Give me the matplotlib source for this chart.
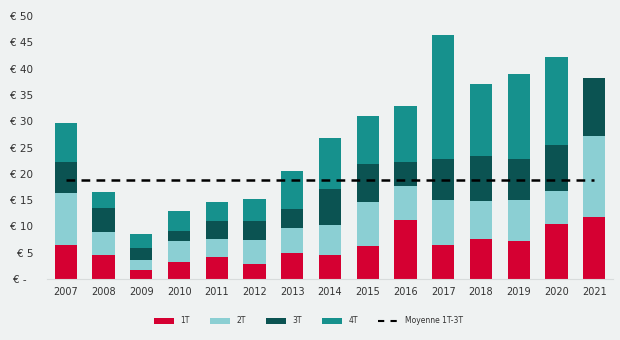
import numpy as np
import matplotlib.pyplot as plt
from matplotlib.patches import Patch
from matplotlib.lines import Line2D

years = [str(y) for y in range(2007, 2022)]
q1 = [6.5, 4.5, 1.8, 3.2, 4.2, 2.8, 4.9, 4.6, 6.3, 11.3, 6.4, 7.7, 7.2, 10.5, 11.8]
q2 = [9.9, 4.4, 1.9, 4.0, 3.5, 4.55, 4.86, 5.7, 8.4, 6.4, 8.6, 7.1, 7.76, 6.2, 15.4]
q3 = [5.8, 4.6, 2.2, 2.0, 3.3, 3.75, 3.64, 6.8, 7.1, 4.5, 7.8, 8.6, 7.84, 8.8, 11.0]
q4 = [7.5, 3.0, 2.6, 3.8, 3.6, 4.05, 7.1, 9.8, 9.2, 10.6, 23.5, 13.7, 16.2, 16.7, 0.0]
moyenne = 18.8

BG = "#eff2f2"
COLORS = ["#d50032", "#8bcfd3", "#0b5352", "#16918d"]
LABELS = ["1T", "2T", "3T", "4T"]

fig = plt.figure(figsize=(6.2, 3.4), dpi=100, facecolor=BG)
ax = fig.add_axes([0.0758, 0.1794, 0.913, 0.7735], facecolor=BG)

x = np.arange(len(years))
bottom = np.zeros(len(years))
for vals, col in zip([q1, q2, q3, q4], COLORS):
    ax.bar(x, vals, width=0.59, bottom=bottom, color=col, linewidth=0)
    bottom += np.array(vals)

ax.plot([x[0], x[-1]], [moyenne, moyenne], color="black", lw=1.8,
        linestyle=(0, (3.5, 2.5)))

ax.set_xlim(-0.5, len(years) - 0.5)
ax.set_ylim(0, 50)
ax.set_xticks(x)
ax.set_xticklabels(years, fontsize=7, color="#333333")
yt = np.arange(0, 51, 5)
ax.set_yticks(yt)
ax.set_yticklabels(["€ -  "] + [f"€ {v}" for v in yt[1:]], fontsize=7.5,
                   color="#333333")
ax.tick_params(axis="x", length=0, pad=6)
ax.tick_params(axis="y", length=0, pad=10)
for s in ["top", "right", "left"]:
    ax.spines[s].set_visible(False)
ax.spines["bottom"].set_color("#d8dcdc")
ax.spines["bottom"].set_linewidth(0.8)

handles = [Patch(facecolor=c, edgecolor="none") for c in COLORS]
handles.append(Line2D([0], [0], color="black", lw=1.5, linestyle=(0, (3, 3))))
fig.legend(handles, LABELS + ["Moyenne 1T-3T"], loc="center",
           bbox_to_anchor=(0.497, 0.056), ncol=5, frameon=False,
           fontsize=5.5, handlelength=2.6, handleheight=0.9,
           columnspacing=2.6, handletextpad=0.9, labelcolor="#333333")

fig.savefig("out.png", dpi=100, facecolor=BG)
